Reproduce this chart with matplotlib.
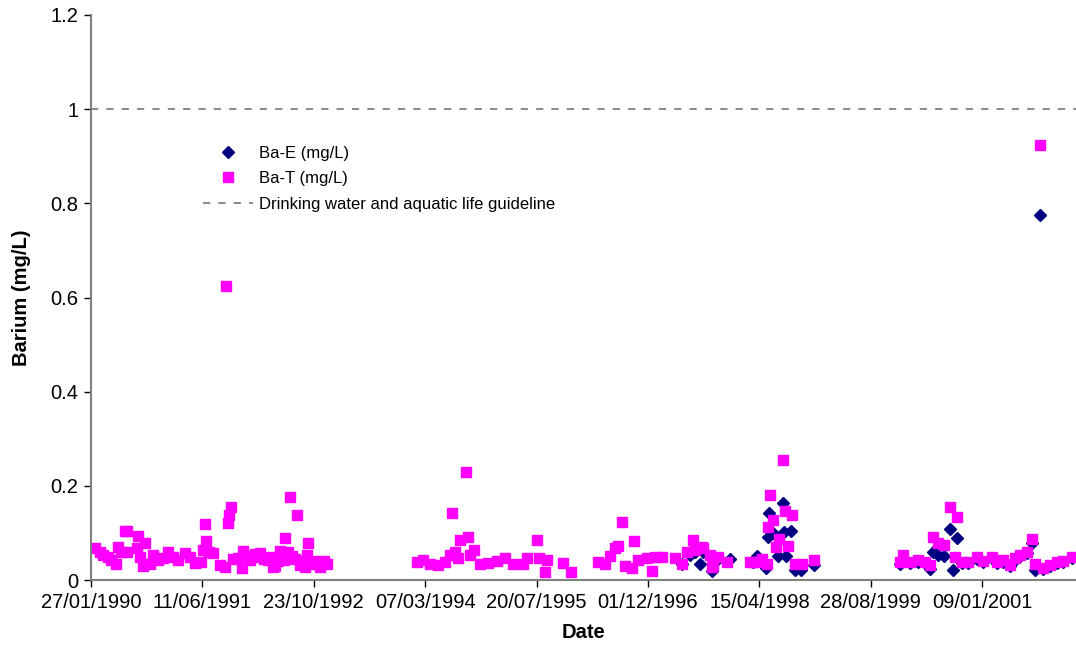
import matplotlib
matplotlib.use("Agg")
import matplotlib.pyplot as plt
import numpy as np
import pandas as pd

plt.rcParams['font.family'] = ['Liberation Sans', 'DejaVu Sans']

# Dates are stored as days after 27/01/1990 (first axis tick)
origin = pd.Timestamp("1990-01-27")

bat_days = [17, 39, 54, 76, 91, 114, 121, 136, 154, 160, 163, 205, 211, 218, 233, 241,
            263, 278, 301, 323, 346, 368, 390, 421, 443, 465, 495, 503, 513, 518, 530,
            549, 579, 601, 606, 613, 619, 628, 639, 660, 676, 684, 695, 714, 735, 751,
            758, 775, 796, 810, 817, 826, 840, 848, 868, 871, 885, 893, 904, 915, 923,
            938, 950, 961, 968, 975, 985, 998, 1010, 1028, 1045, 1058,
            1462, 1492, 1522, 1559, 1589, 1611, 1622, 1634, 1649, 1656, 1683, 1694, 1701,
            1720, 1746, 1783, 1821, 1858, 1895, 1940, 1956, 2000, 2012, 2038, 2045, 2117,
            2153,
            2277, 2307, 2330, 2352, 2367, 2385, 2397, 2427, 2439, 2456, 2494, 2516, 2532,
            2561, 2621, 2651, 2674, 2703, 2711, 2741, 2748, 2778, 2786, 2793, 2816, 2853,
            2958, 2973, 2995, 3010, 3033, 3040, 3048, 3062, 3075, 3089, 3104, 3115, 3130,
            3145, 3160, 3190, 3245,
            3631, 3646, 3676, 3713, 3743, 3766, 3781, 3803, 3829, 3856, 3878, 3886, 3908,
            3938, 3975, 4005, 4043, 4065, 4095, 4125, 4147, 4170, 4200, 4222, 4237, 4260,
            4274, 4304, 4334, 4364, 4402]
bat_values = [0.067, 0.060, 0.053, 0.049, 0.042, 0.035, 0.071, 0.060, 0.105, 0.105, 0.060,
              0.067, 0.093, 0.049, 0.030, 0.079, 0.035, 0.053, 0.042, 0.046, 0.060, 0.049,
              0.042, 0.057, 0.049, 0.037, 0.039, 0.064, 0.119, 0.083, 0.060, 0.058, 0.032,
              0.027, 0.625, 0.122, 0.139, 0.154, 0.044, 0.047, 0.025, 0.062, 0.050, 0.042,
              0.055, 0.048, 0.057, 0.045, 0.042, 0.048, 0.028, 0.030, 0.040, 0.062, 0.042,
              0.089, 0.060, 0.177, 0.051, 0.045, 0.139, 0.032, 0.040, 0.027, 0.053, 0.078,
              0.035, 0.039, 0.040, 0.028, 0.040, 0.034,
              0.039, 0.042, 0.034, 0.032, 0.039, 0.053, 0.142, 0.060, 0.046, 0.085, 0.229,
              0.092, 0.053, 0.064, 0.035, 0.037, 0.041, 0.046, 0.034, 0.034, 0.046, 0.086,
              0.046, 0.016, 0.042, 0.037, 0.017,
              0.039, 0.034, 0.051, 0.069, 0.072, 0.124, 0.030, 0.025, 0.083, 0.042, 0.046,
              0.020, 0.048, 0.049, 0.046, 0.034, 0.060, 0.086, 0.064, 0.071, 0.067, 0.053,
              0.028, 0.032, 0.049, 0.039,
              0.039, 0.039, 0.039, 0.045, 0.035, 0.113, 0.180, 0.127, 0.071, 0.088, 0.255,
              0.147, 0.072, 0.137, 0.034, 0.035, 0.042,
              0.038, 0.053, 0.039, 0.042, 0.039, 0.032, 0.092, 0.078, 0.074, 0.154, 0.049,
              0.134, 0.039, 0.039, 0.048, 0.041, 0.049, 0.039, 0.042, 0.032, 0.046, 0.053,
              0.060, 0.088, 0.035, 0.923, 0.025, 0.032, 0.039, 0.041, 0.049]

bae_days = [2651, 2689, 2711, 2733, 2748, 2778, 2786, 2816, 2868,
            2973, 2990, 3030, 3040, 3045, 3062, 3085, 3104, 3110, 3120, 3140, 3160, 3185,
            3245,
            3631, 3676, 3713, 3743, 3766, 3781, 3803, 3829, 3856, 3870, 3886, 3908, 3938,
            3975, 4005, 4043, 4065, 4095, 4125, 4147, 4170, 4200, 4222, 4237, 4260, 4274,
            4304, 4334, 4364, 4402]
bae_values = [0.033, 0.053, 0.060, 0.035, 0.060, 0.050, 0.020, 0.045, 0.044,
              0.038, 0.051, 0.025, 0.092, 0.142, 0.099, 0.051, 0.164, 0.103, 0.051, 0.104,
              0.021, 0.021, 0.032,
              0.035, 0.036, 0.039, 0.036, 0.023, 0.060, 0.053, 0.050, 0.108, 0.021, 0.089,
              0.036, 0.036, 0.045, 0.038, 0.046, 0.036, 0.039, 0.030, 0.043, 0.050, 0.057,
              0.078, 0.021, 0.775, 0.023, 0.030, 0.037, 0.039, 0.046]

guideline = 1.0
tick_days = [0, 500, 1000, 1500, 2000, 2500, 3000, 3500, 4000]
x_max_days = 4421

bat_dates = origin + pd.to_timedelta(bat_days, unit="D")
bae_dates = origin + pd.to_timedelta(bae_days, unit="D")
tick_dates = origin + pd.to_timedelta(tick_days, unit="D")

fig = plt.figure(figsize=(10.76, 6.58), dpi=100)
ax = fig.add_axes([91/1076, 78/658, 1 - 91/1076, (580-15)/658])

ax.plot(bae_dates, bae_values, linestyle='none', marker='D', markersize=6,
        color='#000080', label='Ba-E (mg/L)')
ax.plot(bat_dates, bat_values, linestyle='none', marker='s', markersize=7,
        color='#FF00FF', label='Ba-T (mg/L)')
ax.axhline(guideline, color='#808080', linewidth=1.3, dashes=(4, 4.5),
           label='Drinking water and aquatic life guideline')

ax.set_xlim(origin, origin + pd.Timedelta(days=x_max_days))
ax.set_ylim(0, 1.2)
ax.set_yticks([0, 0.2, 0.4, 0.6, 0.8, 1.0, 1.2])
ax.set_yticklabels(['0', '0.2', '0.4', '0.6', '0.8', '1', '1.2'])
ax.set_xticks(tick_dates)
ax.set_xticklabels([d.strftime('%d/%m/%Y') for d in tick_dates])

for s in ['top', 'right']:
    ax.spines[s].set_visible(False)
for s in ['left', 'bottom']:
    ax.spines[s].set_color('#808080')
    ax.spines[s].set_linewidth(1.5)
ax.tick_params(axis='both', direction='out', length=5, width=1, color='black',
               labelsize=14.5, pad=4)

ax.set_xlabel('Date', fontsize=14.5, fontweight='bold', labelpad=8)
ax.set_ylabel('Barium (mg/L)', fontsize=14.5, fontweight='bold', labelpad=14)

leg = ax.legend(loc='upper left', bbox_to_anchor=((203-91)/985, (580-146)/565),
                frameon=False, fontsize=12, handlelength=3.0, handletextpad=0.35,
                labelspacing=0.62, borderaxespad=0, borderpad=0)

fig.savefig('out.png', dpi=100)
